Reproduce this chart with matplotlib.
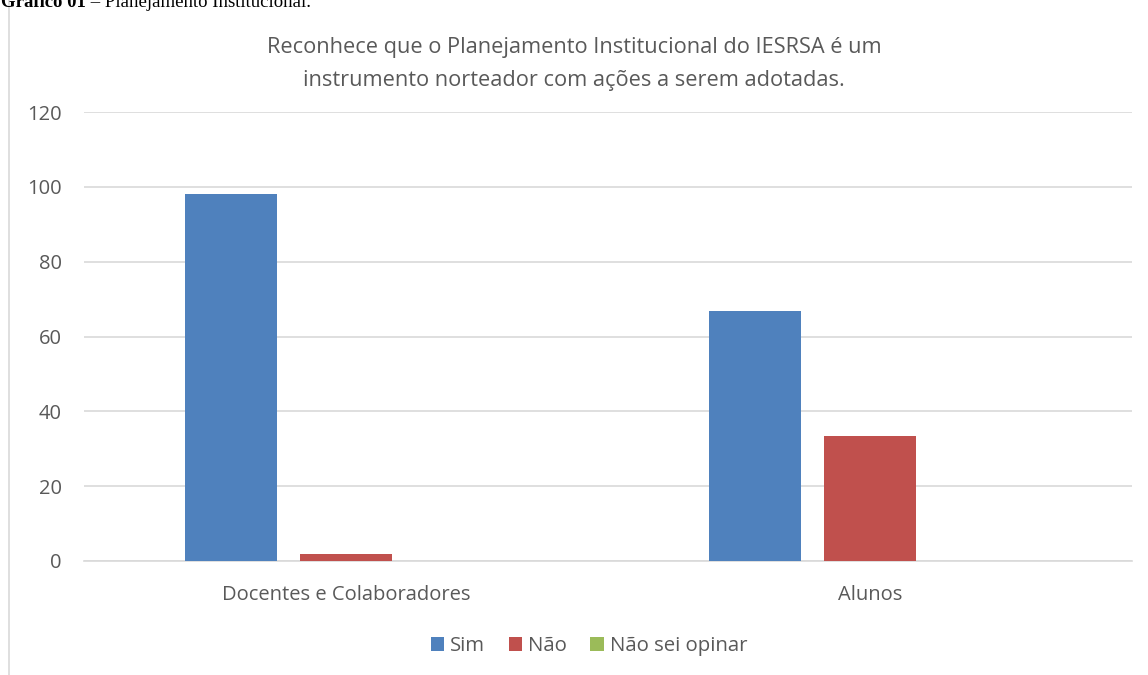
import numpy as np
import matplotlib
matplotlib.use("Agg")
import matplotlib.pyplot as plt
from matplotlib.patches import Rectangle

# data
categories = ["Docentes e Colaboradores", "Alunos"]
series_names = ["Sim", "Não", "Não sei opinar"]
sim = [98.2, 66.7]
nao = [1.8, 33.3]
nao_sei = [0, 0]
y_ticks = [0, 20, 40, 60, 80, 100, 120]

colors = ["#4F81BD", "#C0504D", "#9BBB59"]
text_col = "#595959"
grid_col = "#D9D9D9"

plt.rcParams['font.family'] = ['Open Sans', 'DejaVu Sans']

fig = plt.figure(figsize=(11.48, 6.75), dpi=100)
W, H = 1148, 675

# outer chart frame (cut off on the right and bottom)
frame = Rectangle((9 / W, -0.2), 1.2, 1.2 + (1 - 10 / H), transform=fig.transFigure,
                  fill=False, edgecolor=grid_col, linewidth=1.2, zorder=0)
fig.patches.append(frame)

ax = fig.add_axes([84 / W, 1 - 561 / H, (1132 - 84) / W, (561 - 112) / H])

x = np.arange(len(categories))
width = 0.174
step = 0.2195
for i, (vals, name) in enumerate(zip([sim, nao, nao_sei], series_names)):
    ax.bar(x + (i - 1) * step, vals, width, color=colors[i], label=name, zorder=3)

ax.set_xlim(-0.5, len(categories) - 0.5)
ax.set_ylim(0, 120)
ax.set_yticks(y_ticks)
ax.set_yticklabels([str(t) for t in y_ticks])
ax.set_xticks(x)
ax.set_xticklabels(categories)
ax.tick_params(axis='both', length=0, labelsize=14.5, colors=text_col)
ax.tick_params(axis='y', pad=16)
ax.tick_params(axis='x', pad=17)
ax.grid(axis='y', color=grid_col, linewidth=1.2, zorder=0)
for s in ["top", "right", "left"]:
    ax.spines[s].set_visible(False)
ax.spines["bottom"].set_color(grid_col)
ax.spines["bottom"].set_linewidth(1.2)

fig.text(0.5, 1 - 64 / H, "Reconhece que o Planejamento Institucional do IESRSA é um\n"
         "instrumento norteador com ações a serem adotadas.",
         ha='center', va='center', fontsize=15.7, color=text_col, linespacing=1.75)

leg = fig.legend(loc='center', bbox_to_anchor=(0.513, 1 - 646 / H), ncol=3, frameon=False,
                 fontsize=14.7, handlelength=0.65, handleheight=0.65, handletextpad=0.3,
                 columnspacing=1.15)
for t in leg.get_texts():
    t.set_color(text_col)

# heading above the chart (clipped at top)
r = fig.canvas.get_renderer()
t1 = fig.text(1 / W, 1 - 7 / H, "Gráfico 01", fontsize=13.5, fontweight='bold',
              family='Liberation Serif', va='baseline', ha='left')
bb = t1.get_window_extent(renderer=r)
fig.text(bb.x1 / W, 1 - 7 / H, " – Planejamento Institucional.", fontsize=13.5,
         family='Liberation Serif', va='baseline', ha='left')

fig.savefig("out.png", dpi=100)
